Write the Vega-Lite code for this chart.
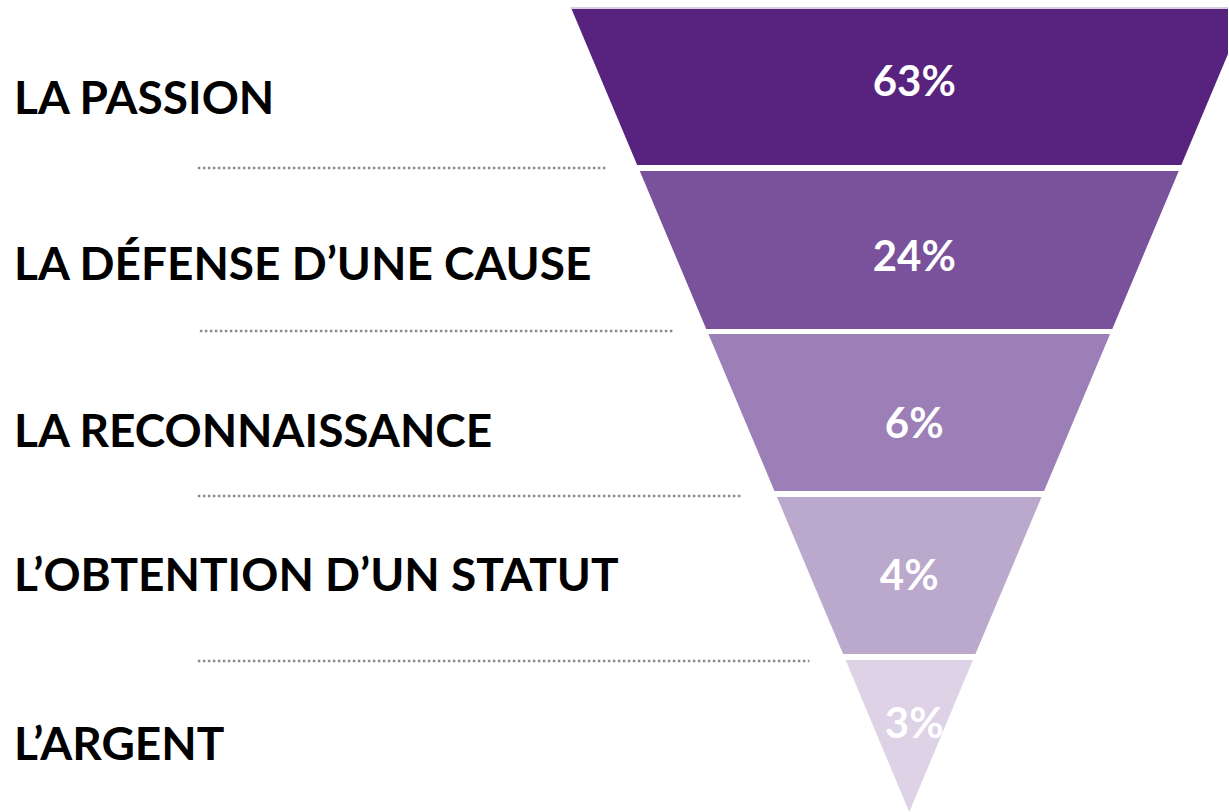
{
  "$schema": "https://vega.github.io/schema/vega-lite/v6.json",
  "width": 1229,
  "height": 812,
  "autosize": {"type": "fit", "contains": "padding"},
  "padding": 0,
  "background": "white",
  "config": {"view": {"stroke": null}},
  "datasets": {
    "funnel": [
      {"seg": "s1", "y": 9, "xl": 572, "xr": 1248},
      {"seg": "s1", "y": 165, "xl": 637.7, "xr": 1182.3},
      {"seg": "s2", "y": 171, "xl": 640.3, "xr": 1179.7},
      {"seg": "s2", "y": 329, "xl": 706.8, "xr": 1113.2},
      {"seg": "s3", "y": 334, "xl": 709, "xr": 1111},
      {"seg": "s3", "y": 491, "xl": 775.1, "xr": 1044.9},
      {"seg": "s4", "y": 497, "xl": 777.6, "xr": 1042.4},
      {"seg": "s4", "y": 654, "xl": 843.8, "xr": 976.2},
      {"seg": "s5", "y": 660, "xl": 846.3, "xr": 973.7},
      {"seg": "s5", "y": 812, "xl": 910, "xr": 910}
    ],
    "labels": [
      {"label": "LA PASSION", "pct": "63%", "ylab": 100, "ypct": 83, "xpct": 915},
      {"label": "LA DÉFENSE D’UNE CAUSE", "pct": "24%", "ylab": 266, "ypct": 258, "xpct": 915},
      {"label": "LA RECONNAISSANCE", "pct": "6%", "ylab": 433, "ypct": 425, "xpct": 915},
      {"label": "L’OBTENTION D’UN STATUT", "pct": "4%", "ylab": 577, "ypct": 577, "xpct": 910},
      {"label": "L’ARGENT", "pct": "3%", "ylab": 746, "ypct": 725, "xpct": 915}
    ],
    "dots": [
      {"y": 168, "x1": 198, "x2": 607},
      {"y": 331, "x1": 200, "x2": 673},
      {"y": 496, "x1": 198, "x2": 742},
      {"y": 661, "x1": 198, "x2": 810}
    ],
    "topline": [
      {"y": 8, "x1": 571, "x2": 1229}
    ]
  },
  "layer": [
    {
      "data": {"name": "funnel"},
      "mark": {"type": "area", "orient": "horizontal", "clip": true, "interpolate": "linear"},
      "encoding": {
        "y": {"field": "y", "type": "quantitative", "scale": {"domain": [0, 812], "reverse": true, "nice": false, "zero": false}, "axis": null},
        "x": {"field": "xl", "type": "quantitative", "scale": {"domain": [0, 1229], "nice": false, "zero": false}, "axis": null},
        "x2": {"field": "xr"},
        "color": {"field": "seg", "type": "nominal", "scale": {"domain": ["s1", "s2", "s3", "s4", "s5"], "range": ["#57237e", "#7a519b", "#9b7fb6", "#bba8cd", "#ddd2e6"]}, "legend": null}
      }
    },
    {
      "data": {"name": "topline"},
      "mark": {"type": "rule", "color": "#cbbcd9", "strokeWidth": 1.5},
      "encoding": {
        "y": {"field": "y", "type": "quantitative"},
        "x": {"field": "x1", "type": "quantitative"},
        "x2": {"field": "x2"}
      }
    },
    {
      "data": {"name": "dots"},
      "mark": {"type": "rule", "color": "#8a8a8a", "strokeWidth": 2.5, "strokeDash": [2.5, 2.5]},
      "encoding": {
        "y": {"field": "y", "type": "quantitative"},
        "x": {"field": "x1", "type": "quantitative"},
        "x2": {"field": "x2"}
      }
    },
    {
      "data": {"name": "labels"},
      "mark": {"type": "text", "align": "left", "baseline": "middle", "font": "Lato", "fontWeight": "bold", "fontSize": 46, "color": "black"},
      "encoding": {
        "y": {"field": "ylab", "type": "quantitative"},
        "x": {"datum": 14, "type": "quantitative"},
        "text": {"field": "label"}
      }
    },
    {
      "data": {"name": "labels"},
      "mark": {"type": "text", "align": "center", "baseline": "middle", "font": "Lato", "fontWeight": "bold", "fontSize": 42, "color": "white"},
      "encoding": {
        "y": {"field": "ypct", "type": "quantitative"},
        "x": {"field": "xpct", "type": "quantitative"},
        "text": {"field": "pct"}
      }
    }
  ]
}
